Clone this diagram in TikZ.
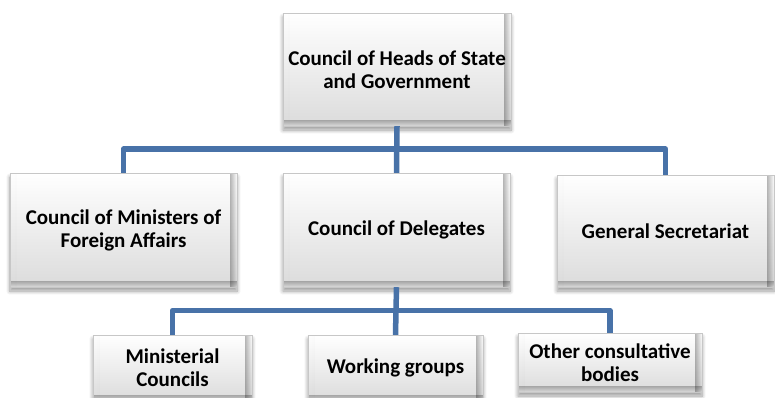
\documentclass[tikz,border=0pt]{standalone}
\usepackage{fontspec}
\setmainfont{Carlito}
\usetikzlibrary{shadows.blur,fadings}
\definecolor{linkblue}{RGB}{72,114,168}
\tikzset{
  orgbox/.style={
    rectangle, align=center, inner sep=2pt,
    font=\fontsize{21}{23}\selectfont\bfseries,
    top color=white, bottom color=black!14,
    draw=black!22, line width=0.4pt,
    blur shadow={shadow xshift=0pt, shadow yshift=-4pt,
                 shadow blur steps=8, shadow blur radius=4pt, shadow opacity=40},
    path picture={
      \fill[black, opacity=0.28, path fading=west]
        (path picture bounding box.south west) rectangle
        ([xshift=7pt]path picture bounding box.north west);
      \fill[black, opacity=0.28, path fading=east]
        ([xshift=-7pt]path picture bounding box.south east) rectangle
        (path picture bounding box.north east);
      \fill[black, opacity=0.25, path fading=south]
        (path picture bounding box.south west) rectangle
        ([yshift=6pt]path picture bounding box.south east);
    }
  },
  link/.style={draw=linkblue, line width=5.5pt, line join=round}
}
\begin{document}
\begin{tikzpicture}[x=1pt,y=-1pt]
  \useasboundingbox (0,0) rectangle (775,397);

  % bus junctions of the two branch levels
  \coordinate (busA) at (396.5,149);
  \coordinate (busB) at (396.5,310.5);

  % top level
  \node[orgbox, minimum width=228pt, minimum height=113pt] (heads) at (397,69.5)
    {Council of Heads of State\\and Government};

  % second level
  \node[orgbox, minimum width=227pt, minimum height=114pt] (ministers) at (123.5,230)
    {Council of Ministers of\\Foreign Affairs};
  \node[orgbox, minimum width=227pt, minimum height=114pt] (delegates) at (396.5,230)
    {Council of Delegates};
  \node[orgbox, minimum width=217pt, minimum height=112pt] (secretariat) at (665.5,231)
    {General Secretariat};

  % third level
  \node[orgbox, minimum width=159pt, minimum height=66pt] (councils) at (172.5,368)
    {Ministerial\\Councils};
  \node[orgbox, minimum width=175pt, minimum height=66pt] (groups) at (395.5,368)
    {Working groups};
  \node[orgbox, minimum width=184pt, minimum height=59pt] (bodies) at (610,362.5)
    {Other consultative\\bodies};

  % connectors
  \draw[link] (heads.south) -- (delegates.north);
  \draw[link] (ministers.north) |- (busA) -| (secretariat.north);
  \draw[link] (delegates.south) -- (groups.north);
  \draw[link] (councils.north) |- (busB) -| (bodies.north);
\end{tikzpicture}
\end{document}
